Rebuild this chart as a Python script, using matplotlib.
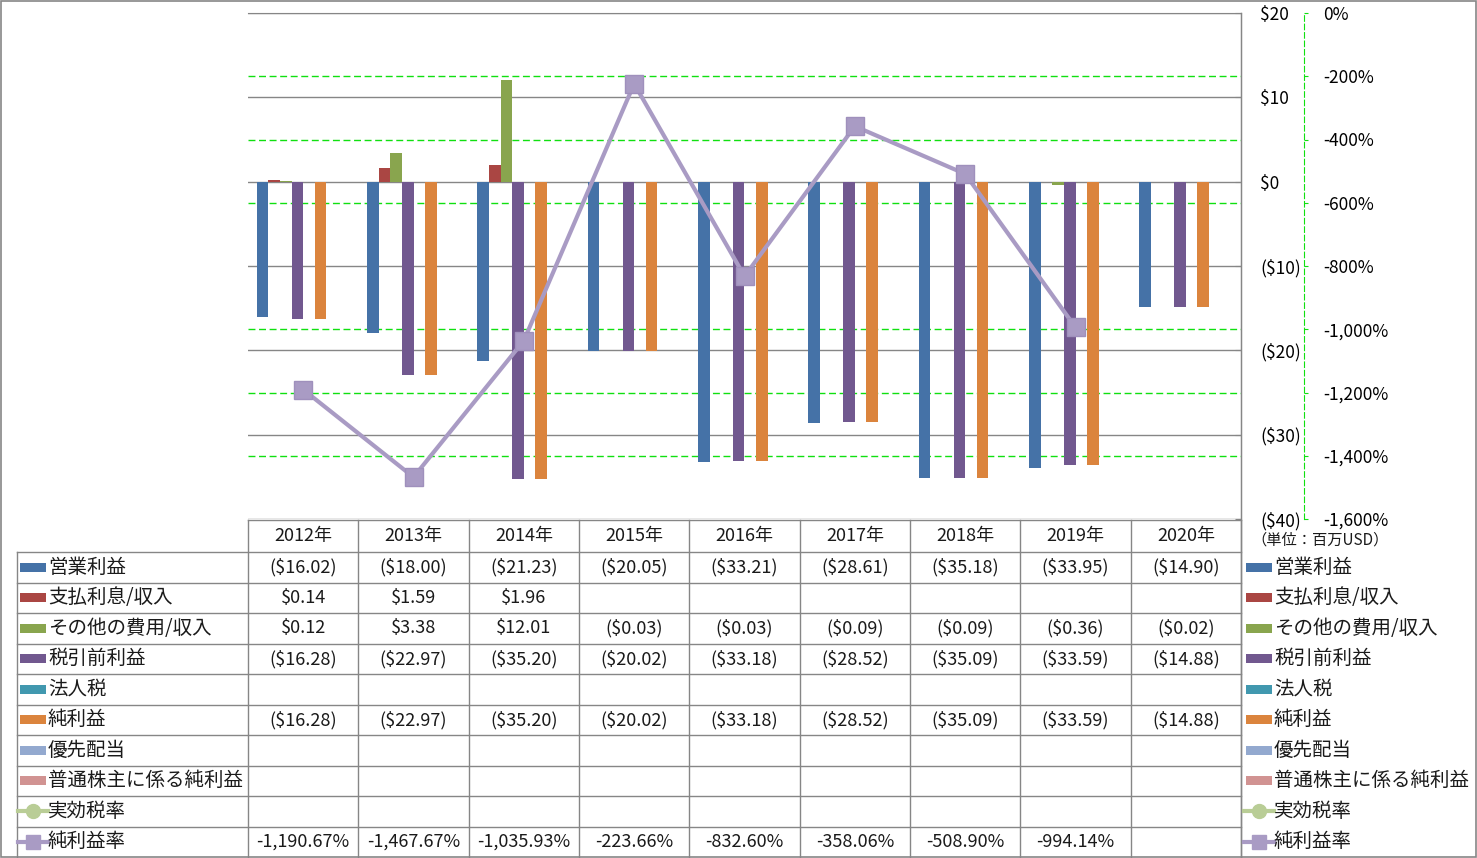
import numpy as np
import matplotlib
matplotlib.use("Agg")
import matplotlib.pyplot as plt
from matplotlib.patches import Rectangle
from matplotlib.ticker import FixedLocator

plt.rcParams['font.family'] = ['Noto Sans CJK JP', 'DejaVu Sans']

# --- data ---
years = ["2012年", "2013年", "2014年", "2015年", "2016年", "2017年", "2018年", "2019年", "2020年"]
series_names = ["営業利益", "支払利息/収入", "その他の費用/収入", "税引前利益", "法人税",
                "純利益", "優先配当", "普通株主に係る純利益", "実効税率", "純利益率"]
eigyo = [-16.02, -18.00, -21.23, -20.05, -33.21, -28.61, -35.18, -33.95, -14.90]
shiharai = [0.14, 1.59, 1.96, None, None, None, None, None, None]
sonota = [0.12, 3.38, 12.01, -0.03, -0.03, -0.09, -0.09, -0.36, -0.02]
zeibiki = [-16.28, -22.97, -35.20, -20.02, -33.18, -28.52, -35.09, -33.59, -14.88]
hojinzei = [None] * 9
junrieki = [-16.28, -22.97, -35.20, -20.02, -33.18, -28.52, -35.09, -33.59, -14.88]
yusen = [None] * 9
futsu = [None] * 9
jikko = [None] * 9
rieki_ritsu = [-1190.67, -1467.67, -1035.93, -223.66, -832.60, -358.06, -508.90, -994.14, None]

bar_series = [eigyo, shiharai, sonota, zeibiki, hojinzei, junrieki, yusen, futsu]
bar_colors = ["#4572A7", "#AA4643", "#89A54E", "#71588F", "#4198AF", "#DB843D", "#93A9CF", "#D19392"]
line_colors = ["#B9CD96", "#A99BC4"]

W, H = 1477, 858
fig = plt.figure(figsize=(W / 100, H / 100), dpi=100)

# background axes in pixel coords for the data table
bg = fig.add_axes([0, 0, 1, 1])
bg.set_xlim(0, W)
bg.set_ylim(H, 0)
bg.axis("off")
bg.set_zorder(-5)

grid_gray = "#868686"
green = "#10E010"
red = "#FF0000"
txt = "#1A1A1A"

# main plot area
x0, x1, y0, y1 = 248, 1241, 13, 519
rect = [x0 / W, 1 - y1 / H, (x1 - x0) / W, (y1 - y0) / H]
ax = fig.add_axes(rect)
axg = ax.twinx()
axl = ax.twinx()
axg.set_zorder(0)
ax.set_zorder(1)
axl.set_zorder(2)
ax.patch.set_visible(False)
axl.patch.set_visible(False)

x = np.arange(len(years))
n = len(bar_series)
w = 1 / (n + 1.5)
for i, (vals, c) in enumerate(zip(bar_series, bar_colors)):
    v = np.array([np.nan if a is None else a for a in vals], dtype=float)
    ax.bar(x + (i - (n - 1) / 2) * w, v, width=w, color=c, linewidth=0)

ax.set_xlim(-0.5, len(years) - 0.5)
ax.set_ylim(-40, 20)
ax.set_axisbelow(True)
ax.set_xticks([])
usd_ticks = [20, 10, 0, -10, -20, -30, -40]
ax.set_yticks(usd_ticks)
ax.set_yticklabels(["($%d)" % -t if t < 0 else "$%d" % t for t in usd_ticks])
for lab, t in zip(ax.get_yticklabels(), usd_ticks):
    lab.set_color(red if t < 0 else txt)
ax.yaxis.tick_right()
ax.tick_params(axis="y", direction="in", length=4, color=grid_gray, pad=14, labelsize=12.5)
ax.yaxis.grid(True, color=grid_gray, linewidth=1)
for s in ["left", "bottom"]:
    ax.spines[s].set_visible(False)
ax.spines["right"].set_color(grid_gray)
ax.spines["top"].set_color(grid_gray)

# secondary (percent) scale
pct_ticks = [0, -200, -400, -600, -800, -1000, -1200, -1400, -1600]
axg.set_ylim(-1600, 0)
axg.set_yticks(pct_ticks)
axg.set_yticklabels(["{:,}%".format(t) for t in pct_ticks])
for lab, t in zip(axg.get_yticklabels(), pct_ticks):
    lab.set_color(red if t < 0 else txt)
axg.spines["right"].set_position(("outward", 63 * 0.72))
axg.spines["right"].set_color(green)
axg.spines["right"].set_linestyle((0, (5, 2.6)))
for s in ["top", "left", "bottom"]:
    axg.spines[s].set_visible(False)
axg.tick_params(axis="y", direction="out", length=3, color=green, pad=11, labelsize=12.5)
# green grid only where it does not sit on a gray $ line
axg.yaxis.remove_overlapping_locs = False
axg.yaxis.set_minor_locator(FixedLocator([t for t in pct_ticks if t % 800 != 0]))
axg.tick_params(axis="y", which="minor", length=0)
axg.yaxis.grid(True, which="minor", color=green, linewidth=1, linestyle=(0, (5, 2.6)))
axg.yaxis.grid(False, which="major")
axg.set_xticks([])

# line on top
r = np.array([np.nan if a is None else a for a in rieki_ritsu], dtype=float)
axl.set_ylim(-1600, 0)
axl.set_xlim(ax.get_xlim())
axl.plot(x, r, color=line_colors[1], linewidth=3, marker="s", markersize=13,
         markerfacecolor=line_colors[1], markeredgecolor="#9F90BC", zorder=5)
axl.axis("off")

# --- table ---
tab_left = 17
col_w = (x1 - x0) / len(years)
hdr_top, row_top, row_h = 520, 552, 30.5
nrows = len(series_names)
row_bot = row_top + nrows * row_h

lc = dict(color=grid_gray, linewidth=1)
bg.plot([x0, x1], [hdr_top, hdr_top], **lc)
for k in range(nrows):
    yy = row_top + k * row_h
    bg.plot([tab_left, x1], [yy, yy], **lc)
bg.plot([tab_left, tab_left], [row_top, row_bot], **lc)
for i in range(len(years) + 1):
    xx = x0 + i * col_w
    bg.plot([xx, xx], [hdr_top, row_bot], **lc)
bg.plot([x1, x1], [y0, row_bot], **lc)
# outer frame
bg.add_patch(Rectangle((0.5, 0.5), W - 1.5, H - 1.5, fill=False, edgecolor=grid_gray, linewidth=1.2))

for i, yr in enumerate(years):
    bg.text(x0 + (i + 0.5) * col_w, (hdr_top + row_top) / 2, yr, ha="center", va="center",
            fontsize=13, color=txt)


def fmt_usd(v):
    if v is None:
        return ""
    return "(${:,.2f})".format(-v) if v < 0 else "${:,.2f}".format(v)


def fmt_pct(v):
    return "" if v is None else "{:,.2f}%".format(v)


table_rows = bar_series + [jikko, rieki_ritsu]
for k, vals in enumerate(table_rows):
    yc = row_top + (k + 0.5) * row_h
    f = fmt_pct if k >= 8 else fmt_usd
    for i, v in enumerate(vals):
        bg.text(x0 + (i + 0.5) * col_w, yc, f(v), ha="center", va="center", fontsize=13, color=txt)


def legend_key(kx, yc, k):
    if k < 8:
        bg.add_patch(Rectangle((kx, yc - 4.5), 26, 9, color=bar_colors[k], linewidth=0))
    else:
        c = line_colors[k - 8]
        bg.plot([kx - 2, kx + 28], [yc, yc], color=c, linewidth=3)
        bg.plot([kx + 13], [yc], marker="o" if k == 8 else "s", markersize=10, color=c)


for k, name in enumerate(series_names):
    yc = row_top + (k + 0.5) * row_h
    legend_key(20, yc, k)
    bg.text(48, yc, name, ha="left", va="center", fontsize=14, color=txt)
    legend_key(1246, yc, k)
    bg.text(1274, yc, name, ha="left", va="center", fontsize=14, color=txt)

bg.text(1251, 540, "（単位：百万USD）", ha="left", va="center", fontsize=11, color=txt)

fig.savefig("out.png", dpi=100)
